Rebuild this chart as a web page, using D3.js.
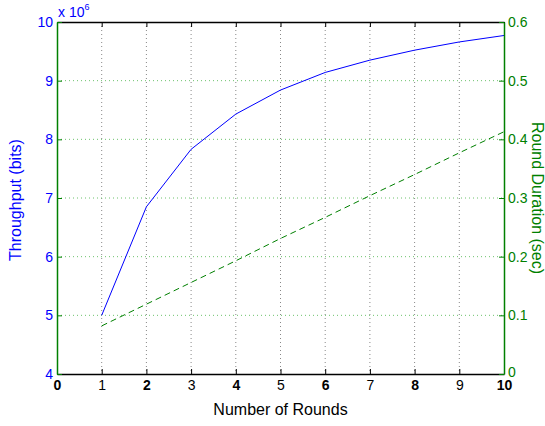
<!DOCTYPE html>
<html>
<head>
<meta charset="utf-8">
<script src="https://cdn.jsdelivr.net/npm/d3@7"></script>
<style>
  body { margin: 0; background: #fff; }
  svg { display: block; font-family: "Liberation Sans", Arial, sans-serif; }
</style>
</head>
<body>
<div id="chart"></div>
<script>
// Data
var rounds = [1, 2, 3, 4, 5, 6, 7, 8, 9, 10];
var throughput = [5.00e6, 6.85e6, 7.83e6, 8.43e6, 8.84e6, 9.14e6, 9.35e6, 9.52e6, 9.66e6, 9.77e6];
var duration = [0.082, 0.119, 0.156, 0.193, 0.231, 0.267, 0.304, 0.340, 0.377, 0.413];
var xTicks = [0, 1, 2, 3, 4, 5, 6, 7, 8, 9, 10];
var leftTicks = [4, 5, 6, 7, 8, 9, 10];
var rightTicks = [0, 0.1, 0.2, 0.3, 0.4, 0.5, 0.6];

var blue = "#0000ff", green = "#008000";

var W = 545, H = 426;
var margin = {top: 22, bottom: 52, left: 57, right: 41};
var width = W - margin.left - margin.right,
    height = H - margin.top - margin.bottom;

var svg = d3.select("#chart").append("svg")
    .attr("width", W)
    .attr("height", H);

var g = svg.append("g")
    .attr("transform", `translate(${margin.left},${margin.top})`);

var x = d3.scaleLinear().domain([0, 10]).range([0, width]);
var yL = d3.scaleLinear().domain([4e6, 10e6]).range([height, 0]);
var yR = d3.scaleLinear().domain([0, 0.6]).range([height, 0]);

// vertical grid
g.append("g").selectAll("line")
    .data(xTicks.slice(1, -1))
    .join("line")
    .attr("x1", d => x(d)).attr("x2", d => x(d))
    .attr("y1", 0).attr("y2", height)
    .attr("stroke", "#888")
    .attr("stroke-width", 1)
    .attr("stroke-dasharray", "1,3");

// horizontal grid
g.append("g").selectAll("line")
    .data(rightTicks.slice(1, -1))
    .join("line")
    .attr("x1", 0).attr("x2", width)
    .attr("y1", d => yR(d)).attr("y2", d => yR(d))
    .attr("stroke", "#6cc26c")
    .attr("stroke-width", 1)
    .attr("stroke-dasharray", "1,3");

// lines
var lineL = d3.line().x((d, i) => x(rounds[i])).y(d => yL(d));
var lineR = d3.line().x((d, i) => x(rounds[i])).y(d => yR(d));

g.append("path")
    .datum(throughput)
    .attr("d", lineL)
    .attr("fill", "none")
    .attr("stroke", blue)
    .attr("stroke-width", 1);

g.append("path")
    .datum(duration)
    .attr("d", lineR)
    .attr("fill", "none")
    .attr("stroke", green)
    .attr("stroke-width", 1)
    .attr("stroke-dasharray", "6,4");

// bottom axis
var xAxis = g.append("g")
    .attr("transform", `translate(0,${height})`)
    .call(d3.axisBottom(x).tickValues(xTicks).tickSizeInner(-5).tickSizeOuter(0).tickPadding(6));
xAxis.select(".domain").attr("stroke", "#000").attr("stroke-width", 1.5);
xAxis.selectAll("text")
    .attr("font-size", "14px")
    .attr("fill", "#000")
    .attr("font-weight", d => d % 2 === 0 ? "bold" : "normal");

// top axis (ticks only)
var topAxis = g.append("g")
    .call(d3.axisTop(x).tickValues(xTicks).tickSizeInner(-5).tickSizeOuter(0).tickFormat(""));
topAxis.select(".domain").attr("stroke", "#000").attr("stroke-width", 1.5);

// left axis
var leftAxis = g.append("g")
    .call(d3.axisLeft(yL).tickValues(leftTicks.map(d => d * 1e6))
        .tickSizeInner(-5).tickSizeOuter(0).tickPadding(4)
        .tickFormat(d => d / 1e6));
leftAxis.select(".domain").attr("stroke", green).attr("stroke-width", 1.5);
leftAxis.selectAll(".tick line").attr("stroke", green);
leftAxis.selectAll("text").attr("font-size", "14px").attr("fill", blue);

// right axis
var rightAxis = g.append("g")
    .attr("transform", `translate(${width},0)`)
    .call(d3.axisRight(yR).tickValues(rightTicks)
        .tickSizeInner(-5).tickSizeOuter(0).tickPadding(4)
        .tickFormat(d => d === 0 ? "0" : d3.format(".1f")(d)));
rightAxis.select(".domain").attr("stroke", green).attr("stroke-width", 1.5);
rightAxis.selectAll(".tick line").attr("stroke", green);
rightAxis.selectAll("text").attr("font-size", "14px").attr("fill", green);
// lift the "0" slightly so it clears the "10" below
rightAxis.selectAll("text").filter(d => d === 0).attr("dy", "0.2em");

// exponent label
var expo = svg.append("text")
    .attr("x", margin.left + 1)
    .attr("y", margin.top - 5)
    .attr("font-size", "14px")
    .attr("fill", blue);
expo.append("tspan").text("x 10");
expo.append("tspan").attr("dy", -7).attr("font-size", "9px").text("6");

// axis titles
svg.append("text")
    .attr("x", margin.left + width / 2)
    .attr("y", H - 11)
    .attr("text-anchor", "middle")
    .attr("font-size", "16px")
    .attr("fill", "#000")
    .text("Number of Rounds");

svg.append("text")
    .attr("transform", `translate(21,${margin.top + height / 2 + 2}) rotate(-90)`)
    .attr("text-anchor", "middle")
    .attr("font-size", "16px")
    .attr("fill", blue)
    .text("Throughput (bits)");

svg.append("text")
    .attr("transform", `translate(532,${margin.top + height / 2}) rotate(90)`)
    .attr("text-anchor", "middle")
    .attr("font-size", "16px")
    .attr("fill", green)
    .text("Round Duration (sec)");
</script>
</body>
</html>
